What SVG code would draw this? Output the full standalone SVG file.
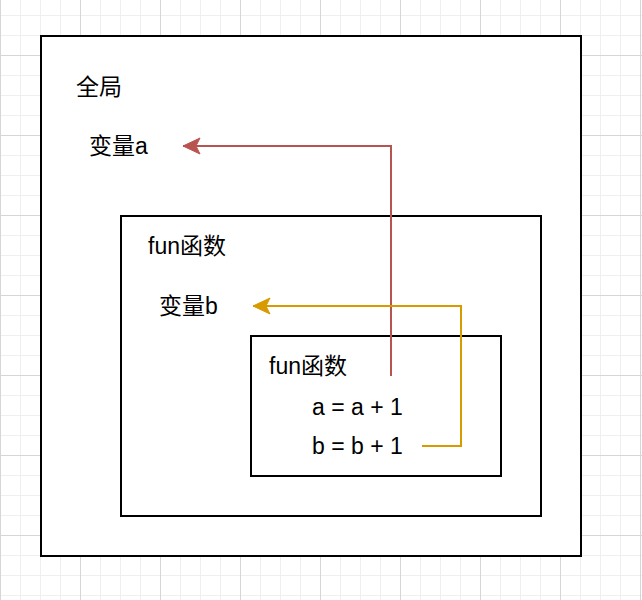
<svg xmlns="http://www.w3.org/2000/svg" width="642" height="600" viewBox="0 0 642 600">
<defs>
<pattern id="gs" width="20" height="20" patternUnits="userSpaceOnUse" x="0" y="15">
<path d="M0.5 0V20M0 0.5H20" fill="none" stroke="#efefef" stroke-width="1"/>
</pattern>
<pattern id="gl" width="80" height="80" patternUnits="userSpaceOnUse" x="0" y="55">
<path d="M0.5 0V80M0 0.5H80" fill="none" stroke="#d6d6d6" stroke-width="1"/>
</pattern>
<marker id="arR" markerUnits="userSpaceOnUse" markerWidth="20" markerHeight="20" refX="19" refY="9" orient="auto" viewBox="0 0 20 18">
<path d="M19 9L2 1L6 9L2 17Z" fill="#b85450" stroke="#b85450" stroke-width="1"/>
</marker>
<marker id="arY" markerUnits="userSpaceOnUse" markerWidth="20" markerHeight="20" refX="19" refY="9" orient="auto" viewBox="0 0 20 18">
<path d="M19 9L2 1L6 9L2 17Z" fill="#d79b00" stroke="#d79b00" stroke-width="1"/>
</marker>
</defs>
<style>
.box{fill:#ffffff;stroke:#000000;stroke-width:2}
.t{font-family:"Liberation Sans","Noto Sans CJK SC",sans-serif;font-size:23px;fill:#000000}
.c{fill:none;stroke-width:2}
</style>
<rect width="642" height="600" fill="#ffffff"/>
<rect width="642" height="600" fill="url(#gs)"/>
<rect width="642" height="600" fill="url(#gl)"/>
<g id="global">
<rect class="box" x="41" y="36" width="540" height="520"/>
<text class="t" x="76" y="95">全局</text>
<text class="t" x="89" y="154">变量a</text>
</g>
<g id="fun-outer">
<rect class="box" x="121" y="216" width="420" height="300"/>
<text class="t" x="148" y="254">fun函数</text>
<text class="t" x="159" y="314">变量b</text>
</g>
<g id="fun-inner">
<rect class="box" x="251" y="336" width="250" height="140"/>
<text class="t" x="269" y="374">fun函数</text>
<text class="t" x="312" y="415">a = a + 1</text>
<text class="t" x="312" y="454">b = b + 1</text>
</g>
<g id="connectors">
<path class="c" d="M391 376V146H183" stroke="#b85450" marker-end="url(#arR)"/>
<path class="c" d="M422 446H461V306H253" stroke="#d79b00" marker-end="url(#arY)"/>
</g>
</svg>
